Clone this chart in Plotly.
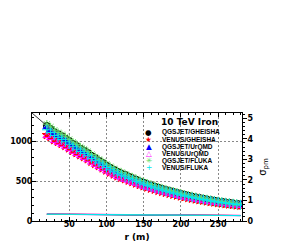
import plotly.graph_objects as go

r = list(range(20, 285, 5))

qgs_gheisha = [1190,1150,1110,1085,1060,1030,1000,965,935,905,880,850,815,785,755,725,695,665,640,615,595,575,555,535,515,495,478,460,445,430,415,400,387,374,362,350,338,327,316,306,296,287,278,270,262,254,247,240,233,227,221,215,210]
ven_gheisha = [1075,1050,1012,990,965,940,910,878,850,824,800,773,742,715,688,660,633,606,583,560,542,524,506,488,470,452,436,420,406,393,379,366,354,342,331,320,309,299,289,280,271,263,255,247,240,233,226,220,214,208,203,197,193]
qgs_urqmd = [1180,1140,1100,1078,1050,1022,992,958,928,898,872,842,808,778,748,718,688,660,634,610,590,570,550,530,510,491,474,456,441,426,411,397,384,371,359,347,335,324,313,303,294,285,276,268,260,252,245,238,231,225,219,213,208]
ven_urqmd = [1065,1040,1002,980,955,930,900,868,840,814,790,763,732,705,678,651,624,598,575,553,535,517,499,481,464,446,430,415,401,388,374,361,349,338,327,316,305,295,286,277,268,260,252,244,237,230,224,218,212,206,201,195,191]
qgs_fluka = [1210,1175,1135,1105,1080,1052,1020,985,955,925,898,868,832,802,771,740,710,680,654,628,608,587,566,546,526,506,488,470,455,439,424,409,396,382,370,358,346,334,323,313,303,293,284,276,268,260,252,245,238,232,226,220,214]
ven_fluka = [1140,1105,1068,1042,1018,990,960,928,898,870,845,816,782,754,725,696,668,640,615,591,572,552,533,514,495,476,460,442,428,413,399,385,372,360,348,337,325,315,304,295,285,276,268,260,252,245,238,231,225,219,213,207,202]

fit_r = [0, 10, 20, 40, 60, 100, 150, 200, 250, 280]
fit_y = [1350, 1270, 1190, 1060, 935, 695, 478, 338, 247, 210]

sig_r = [20, 50, 100, 150, 200, 250, 280]
sig_qg = [0.33, 0.32, 0.30, 0.29, 0.28, 0.27, 0.265]
sig_vg = [0.34, 0.33, 0.31, 0.295, 0.285, 0.275, 0.27]
sig_qu = [0.325, 0.315, 0.30, 0.285, 0.275, 0.265, 0.26]
sig_vu = [0.345, 0.335, 0.315, 0.30, 0.29, 0.28, 0.275]
sig_qf = [0.33, 0.32, 0.305, 0.29, 0.28, 0.27, 0.265]
sig_vf = [0.335, 0.325, 0.305, 0.29, 0.28, 0.27, 0.265]

names = ["QGSJET/GHEISHA", "VENUS/GHEISHA", "QGSJET/UrQMD", "VENUS/UrQMD", "QGSJET/FLUKA", "VENUS/FLUKA"]
series = [qgs_gheisha, ven_gheisha, qgs_urqmd, ven_urqmd, qgs_fluka, ven_fluka]
sigmas = [sig_qg, sig_vg, sig_qu, sig_vu, sig_qf, sig_vf]
colors = ["#000000", "#ff0000", "#0000ff", "#ff00ff", "#66dd66", "#00e8f0"]
symbols = ["circle", "star", "triangle-up", "triangle-up-open", "asterisk-open", "cross-thin-open"]
sizes = [7, 7, 7, 7, 7, 7]
legend_glyphs = ["●", "★", "▲", "△", "✳", "+"]

fig = go.Figure()

for s, c in zip(sigmas, colors):
    fig.add_trace(go.Scatter(x=sig_r, y=s, mode="lines", yaxis="y2",
                             line=dict(color=c, width=1), showlegend=False))

fig.add_trace(go.Scatter(x=fit_r, y=fit_y, mode="lines",
                         line=dict(color="black", width=0.8), showlegend=False))

for name, ys, c, sym, sz in zip(names, series, colors, symbols, sizes):
    fig.add_trace(go.Scatter(x=r, y=ys, mode="markers", name=name,
                             marker=dict(symbol=sym, color=c, size=sz,
                                         line=dict(color=c, width=1)),
                             showlegend=False))

tickfont = dict(family="DejaVu Sans", size=8, color="black", weight="bold")

# page body has an 8px default margin, so the figure is 8px smaller and shifted
fig.update_layout(
    width=297, height=237,
    margin=dict(l=24, r=63, t=105, b=24),
    paper_bgcolor="white", plot_bgcolor="white",
    font=dict(family="DejaVu Sans", color="black"),
    showlegend=False,
    xaxis=dict(range=[0, 282], tickvals=[50, 100, 150, 200, 250], automargin=False,
               ticks="inside", ticklen=4, tickcolor="black",
               minor=dict(dtick=10, ticks="inside", ticklen=2, tickcolor="black", showgrid=False),
               showline=True, linecolor="black", linewidth=1, mirror="ticks",
               showgrid=True, gridcolor="#888888", griddash="2px,2px", gridwidth=0.6,
               zeroline=False, tickfont=tickfont, ticklabelstandoff=-5,
               title=dict(text="<b>r (m)</b>", font=dict(family="DejaVu Sans", size=9), standoff=6)),
    yaxis=dict(range=[0, 1350], tickvals=[0, 500, 1000], automargin=False,
               ticks="inside", ticklen=4, tickcolor="black",
               minor=dict(dtick=100, ticks="inside", ticklen=2, tickcolor="black", showgrid=False),
               showline=True, linecolor="black", linewidth=1, mirror=True,
               showgrid=True, gridcolor="#888888", griddash="2px,2px", gridwidth=0.6,
               zeroline=False, tickfont=tickfont, ticklabelstandoff=-3),
    yaxis2=dict(range=[0, 5.26], overlaying="y", side="right", automargin=False,
                tickvals=[0, 1, 2, 3, 4, 5], ticks="outside", ticklen=4, tickcolor="black",
                minor=dict(dtick=0.2, ticks="outside", ticklen=2, tickcolor="black"),
                showgrid=False, zeroline=False, showline=False, tickfont=tickfont,
                ticklabelstandoff=-1,
                title=dict(text="σ<sub>pm</sub>", font=dict(family="DejaVu Sans", size=10), standoff=6)),
)

# white background behind legend
fig.add_shape(type="rect", xref="paper", yref="paper", x0=0.529, x1=0.948, y0=0.435, y1=0.995,
              fillcolor="white", line=dict(width=0), layer="between")

fig.add_annotation(xref="paper", yref="paper", x=0.752, y=0.917, text="<b>10 TeV Iron</b>",
                   showarrow=False, xanchor="center", yanchor="middle",
                   font=dict(family="DejaVu Sans", size=9, color="black"))

row_y = [0.821, 0.756, 0.688, 0.623, 0.556, 0.491]
for name, c, g, yy in zip(names, colors, legend_glyphs, row_y):
    fig.add_annotation(xref="paper", yref="paper", x=0.557, y=yy, text=g, showarrow=False,
                       font=dict(family="DejaVu Sans", size=7.5, color=c), xanchor="center", yanchor="middle")
    fig.add_annotation(xref="paper", yref="paper", x=0.61, y=yy, text="<b>" + name + "</b>",
                       showarrow=False, xanchor="left", yanchor="middle",
                       font=dict(family="Liberation Sans", size=6.5, color="black"))

fig.write_html("out.html")
